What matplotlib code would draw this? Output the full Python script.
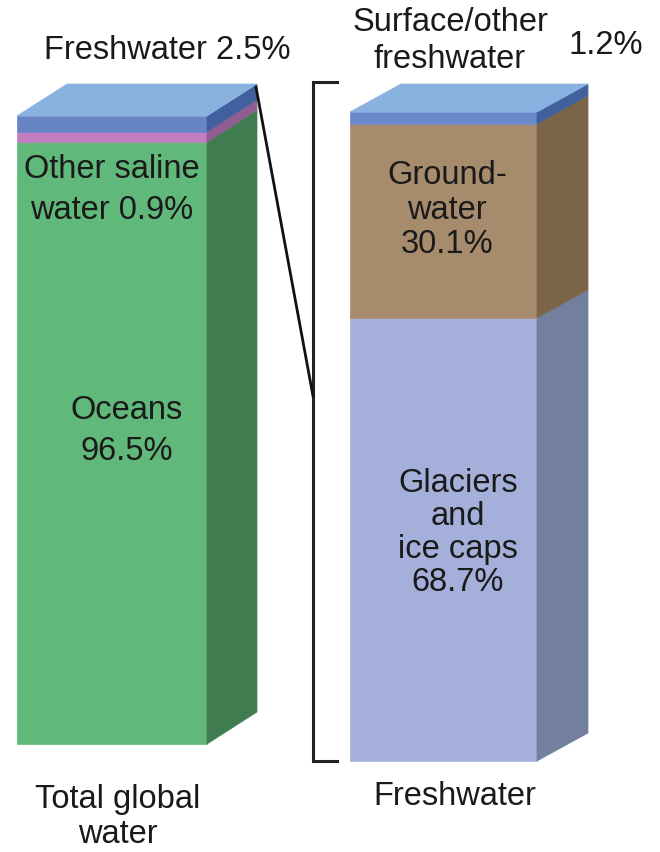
import matplotlib
matplotlib.use("Agg")
import matplotlib.pyplot as plt
from matplotlib.patches import Polygon

plt.rcParams['font.family'] = ['Liberation Sans', 'DejaVu Sans']

# ---- data ----
total_categories = ["Oceans", "Other saline water", "Freshwater"]
total_values = [96.5, 0.9, 2.5]
fresh_categories = ["Glaciers and ice caps", "Groundwater", "Surface/other freshwater"]
fresh_values = [68.7, 30.1, 1.2]
bar_titles = ["Total global\nwater", "Freshwater"]

# ---- styles ----
total_front = ["#61b87b", "#c47fc0", "#6784c4"]
total_side = ["#3f7d51", "#8f5e90", "#42609e"]
fresh_front = ["#a4b0da", "#a78b6d", "#6a89c8"]
fresh_side = ["#737f9f", "#7b6549", "#42609e"]
top_color = "#8ab2e0"

fig = plt.figure(figsize=(6.6, 8.53), dpi=100)
ax = fig.add_axes([0, 0, 1, 1])
ax.set_xlim(0, 660)
ax.set_ylim(853, 0)
ax.axis("off")

def draw_bar(x0, x1, ybot, ytop, dx, dy, values, fronts, sides, min_disp):
    disp = [max(v, min_disp) for v in values]
    scale = (ybot - ytop) / sum(disp)
    y = ybot
    for i, (d, fc, sc) in enumerate(zip(disp, fronts, sides)):
        y2 = y - d * scale
        ax.add_patch(Polygon([(x0, y), (x1, y), (x1, y2), (x0, y2)], closed=True,
                             facecolor=fc, edgecolor=fc, lw=0.5))
        ax.add_patch(Polygon([(x1, y), (x1 + dx, y - dy), (x1 + dx, y2 - dy), (x1, y2)],
                             closed=True, facecolor=sc, edgecolor=sc, lw=0.5))
        y = y2
    ax.add_patch(Polygon([(x0, y), (x0 + dx, y - dy), (x1 + dx, y - dy), (x1, y)],
                         closed=True, facecolor=top_color, edgecolor=top_color, lw=0.5))
    return scale

draw_bar(17, 207, 745, 117, 50, 32, total_values, total_front, total_side, 1.7)
draw_bar(350, 537, 762, 113, 51, 28, fresh_values, fresh_front, fresh_side, 1.8)

# bracket and connector
ax.plot([337, 313, 313, 337], [83, 83, 762, 762], color="#222222", lw=2.2,
        solid_joinstyle="miter")
ax.plot([256, 313], [88, 397], color="#111111", lw=2)

fs = 23.5
tc = "#1a1a1a"
ax.text(167, 50, f"{total_categories[2]} {total_values[2]}%", ha="center", va="center",
        fontsize=fs, color=tc)
ax.text(112, 190, f"Other saline\nwater {total_values[1]}%", ha="center", va="center",
        fontsize=fs, color=tc, linespacing=1.45)
ax.text(127, 431, f"{total_categories[0]}\n{total_values[0]}%", ha="center", va="center",
        fontsize=fs, color=tc, linespacing=1.38)
ax.text(118, 817, bar_titles[0], ha="center", va="center", fontsize=fs, color=tc,
        linespacing=1.15)

ax.text(450, 41, "Surface/other\nfreshwater", ha="center", va="center", fontsize=fs,
        color=tc, linespacing=1.22)
ax.text(606, 45, f"{fresh_values[2]}%", ha="center", va="center", fontsize=fs, color=tc)
ax.text(447, 210, f"Ground-\nwater\n{fresh_values[1]}%", ha="center", va="center",
        fontsize=fs, color=tc, linespacing=1.15)
ax.text(458, 533, f"Glaciers\nand\nice caps\n{fresh_values[0]}%", ha="center", va="center",
        fontsize=fs, color=tc, linespacing=1.08)
ax.text(455, 797, bar_titles[1], ha="center", va="center", fontsize=fs, color=tc)

fig.savefig("out.png", dpi=100)
